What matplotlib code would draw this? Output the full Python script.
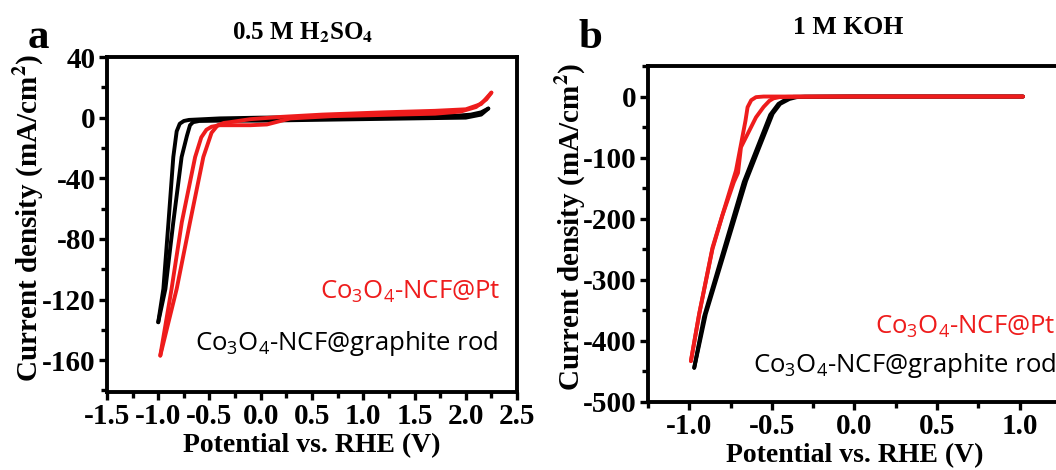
import numpy as np
import matplotlib.pyplot as plt
from matplotlib.ticker import MultipleLocator

plt.rcParams.update({
    "font.family": "serif",
    "font.serif": ["Liberation Serif"],
    "font.weight": "bold",
    "font.size": 16,
    "axes.unicode_minus": False,
    "mathtext.fontset": "custom",
    "mathtext.rm": "Open Sans:weight=normal",
    "mathtext.it": "Open Sans:weight=normal",
    "mathtext.bf": "Open Sans:weight=bold",
})

# ---- panel a : 0.5 M H2SO4 (two branches of each CV loop) ----
a_black_x1 = [-1.00, -0.95, -0.90, -0.853, -0.82, -0.79, -0.75, -0.70, -0.40, 0.0, 0.5, 1.0, 1.5, 1.9, 2.05, 2.15, 2.22]
a_black_y1 = [-135, -113, -69, -26, -9, -4, -2.2, -1.5, -0.5, 0.0, 0.3, 0.5, 0.8, 1.2, 2.0, 3.5, 6.0]
a_black_x2 = [2.22, 2.15, 2.0, 1.5, 1.0, 0.5, 0.0, -0.4, -0.6, -0.66, -0.69, -0.72, -0.772, -0.853, -0.93, -1.00]
a_black_y2 = [6.0, 2.0, 0.0, -0.5, -1.0, -1.5, -2.0, -2.0, -2.2, -3, -5, -12, -26, -69, -113, -135]

a_red_x1 = [-0.98, -0.87, -0.77, -0.64, -0.58, -0.53, -0.48, -0.40, -0.10, 0.06, 0.29, 0.7, 1.2, 1.7, 1.95, 2.10, 2.20, 2.25]
a_red_y1 = [-157, -113, -69, -26, -13, -8, -6, -5, -5, -4.5, -0.5, 1.0, 1.8, 2.6, 4.0, 7.0, 12.0, 16.5]
a_red_x2 = [2.25, 2.15, 2.0, 1.7, 1.2, 0.6, 0.2, -0.1, -0.30, -0.36, -0.42, -0.48, -0.56, -0.69, -0.82, -0.98]
a_red_y2 = [16.5, 9.0, 5.5, 4.5, 3.5, 2.0, 0.5, -1.0, -3.0, -3.5, -5, -10, -26, -69, -113, -157]

# ---- panel b : 1 M KOH ----
b_black_x1 = [-0.97, -0.90, -0.778, -0.656, -0.576, -0.495, -0.45, -0.394, -0.35, -0.30, 0.0, 0.5, 1.02]
b_black_y1 = [-444, -356, -247, -138, -83, -28, -12, -4, -1, -0.3, 0.0, 0.0, 0.0]
b_black_x2 = [1.02, 0.5, 0.0, -0.37, -0.41, -0.46, -0.51, -0.59, -0.67, -0.79, -0.91, -0.97]
b_black_y2 = [0.0, 0.0, 0.0, -0.5, -4, -12, -30, -85, -140, -250, -360, -444]

b_red_x1 = [-0.99, -0.94, -0.859, -0.717, -0.66, -0.647, -0.625, -0.596, -0.55, -0.3, 0.0, 0.5, 1.02]
b_red_y1 = [-433, -356, -247, -121, -40, -17.5, -6, -1, 0.0, 0.0, 0.0, 0.0, 0.0]
b_red_x2 = [1.02, 0.5, 0.0, -0.40, -0.455, -0.49, -0.515, -0.55, -0.596, -0.687, -0.705, -0.73, -0.80, -0.86, -0.94, -0.99]
b_red_y2 = [0.0, 0.0, 0.0, -0.5, -1, -3, -7, -17, -34, -83, -125, -140, -195, -250, -356, -433]

RED = "#ee1c1c"

fig = plt.figure(figsize=(10.56, 4.70), dpi=100)
ax1 = fig.add_axes([0.1013, 0.166, 0.3883, 0.7127])
ax2 = fig.add_axes([0.6136, 0.1447, 0.3911, 0.7149])


def style_axis(ax):
    for s in ax.spines.values():
        s.set_linewidth(2.8)
    ax.tick_params(which="both", direction="out", width=2.4, top=False, right=False)
    ax.tick_params(which="major", length=6, labelsize=21, pad=2)
    ax.tick_params(which="minor", length=4)
    for lab in ax.get_xticklabels() + ax.get_yticklabels():
        lab.set_fontweight("bold")


for x, y in [(a_black_x1, a_black_y1), (a_black_x2, a_black_y2)]:
    ax1.plot(x, y, color="black", lw=2.8, solid_capstyle="round", solid_joinstyle="round")
for x, y in [(a_red_x1, a_red_y1), (a_red_x2, a_red_y2)]:
    ax1.plot(x, y, color=RED, lw=2.8, solid_capstyle="round", solid_joinstyle="round")
ax1.set_xlim(-1.5, 2.5)
ax1.set_ylim(-181, 40)
ax1.xaxis.set_major_locator(MultipleLocator(0.5))
ax1.xaxis.set_minor_locator(MultipleLocator(0.25))
ax1.yaxis.set_major_locator(MultipleLocator(40))
ax1.yaxis.set_minor_locator(MultipleLocator(20))
ax1.xaxis.set_major_formatter(plt.FormatStrFormatter("%.1f"))
style_axis(ax1)

for x, y in [(b_black_x1, b_black_y1), (b_black_x2, b_black_y2)]:
    ax2.plot(x, y, color="black", lw=2.8, solid_capstyle="round", solid_joinstyle="round")
for x, y in [(b_red_x1, b_red_y1), (b_red_x2, b_red_y2)]:
    ax2.plot(x, y, color=RED, lw=2.8, solid_capstyle="round", solid_joinstyle="round")
ax2.set_xlim(-1.25, 1.25)
ax2.set_ylim(-500, 50)
ax2.xaxis.set_major_locator(MultipleLocator(0.5))
ax2.xaxis.set_minor_locator(MultipleLocator(0.25))
ax2.yaxis.set_major_locator(MultipleLocator(100))
ax2.yaxis.set_minor_locator(MultipleLocator(50))
ax2.xaxis.set_major_formatter(plt.FormatStrFormatter("%.1f"))
style_axis(ax2)

for ax in (ax1, ax2):
    ax.set_xlabel("Potential vs. RHE (V)", fontsize=20, fontweight="bold", labelpad=2)
    ax.set_ylabel(r"Current density (mA/cm$^\mathbf{2}$)", fontsize=21, fontweight="bold",
                  math_fontfamily="stix")
ax1.yaxis.set_label_coords(-0.151, 0.52)
ax2.yaxis.set_label_coords(-0.148, 0.52)

# legends as coloured text
leg_kw = dict(ha="right", va="center", family="Open Sans", fontsize=18.5, fontweight="normal")
ax1.text(0.96, 0.30, r"Co$_\mathrm{3}$O$_\mathrm{4}$-NCF@Pt", transform=ax1.transAxes,
         color=RED, **leg_kw)
ax1.text(0.955, 0.145, r"Co$_\mathrm{3}$O$_\mathrm{4}$-NCF@graphite rod", transform=ax1.transAxes,
         color="black", **leg_kw)
ax2.text(0.988, 0.224, r"Co$_\mathrm{3}$O$_\mathrm{4}$-NCF@Pt", transform=ax2.transAxes,
         color=RED, **leg_kw)
ax2.text(0.988, 0.11, r"Co$_\mathrm{3}$O$_\mathrm{4}$-NCF@graphite rod", transform=ax2.transAxes,
         color="black", **leg_kw)

fig.text(303 / 1056, 1 - 33 / 470, r"0.5 M H$_\mathbf{2}$SO$_\mathbf{4}$", ha="center", va="center",
         fontsize=18, fontweight="bold", math_fontfamily="stix")
fig.text(848 / 1056, 1 - 27 / 470, "1 M KOH", ha="center", va="center", fontsize=18.5, fontweight="bold")
fig.text(38 / 1056, 1 - 38 / 470, "a", ha="center", va="center", fontsize=31, fontweight="bold")
fig.text(590 / 1056, 1 - 38 / 470, "b", ha="center", va="center", fontsize=31, fontweight="bold")

fig.savefig("out.png", dpi=100)
